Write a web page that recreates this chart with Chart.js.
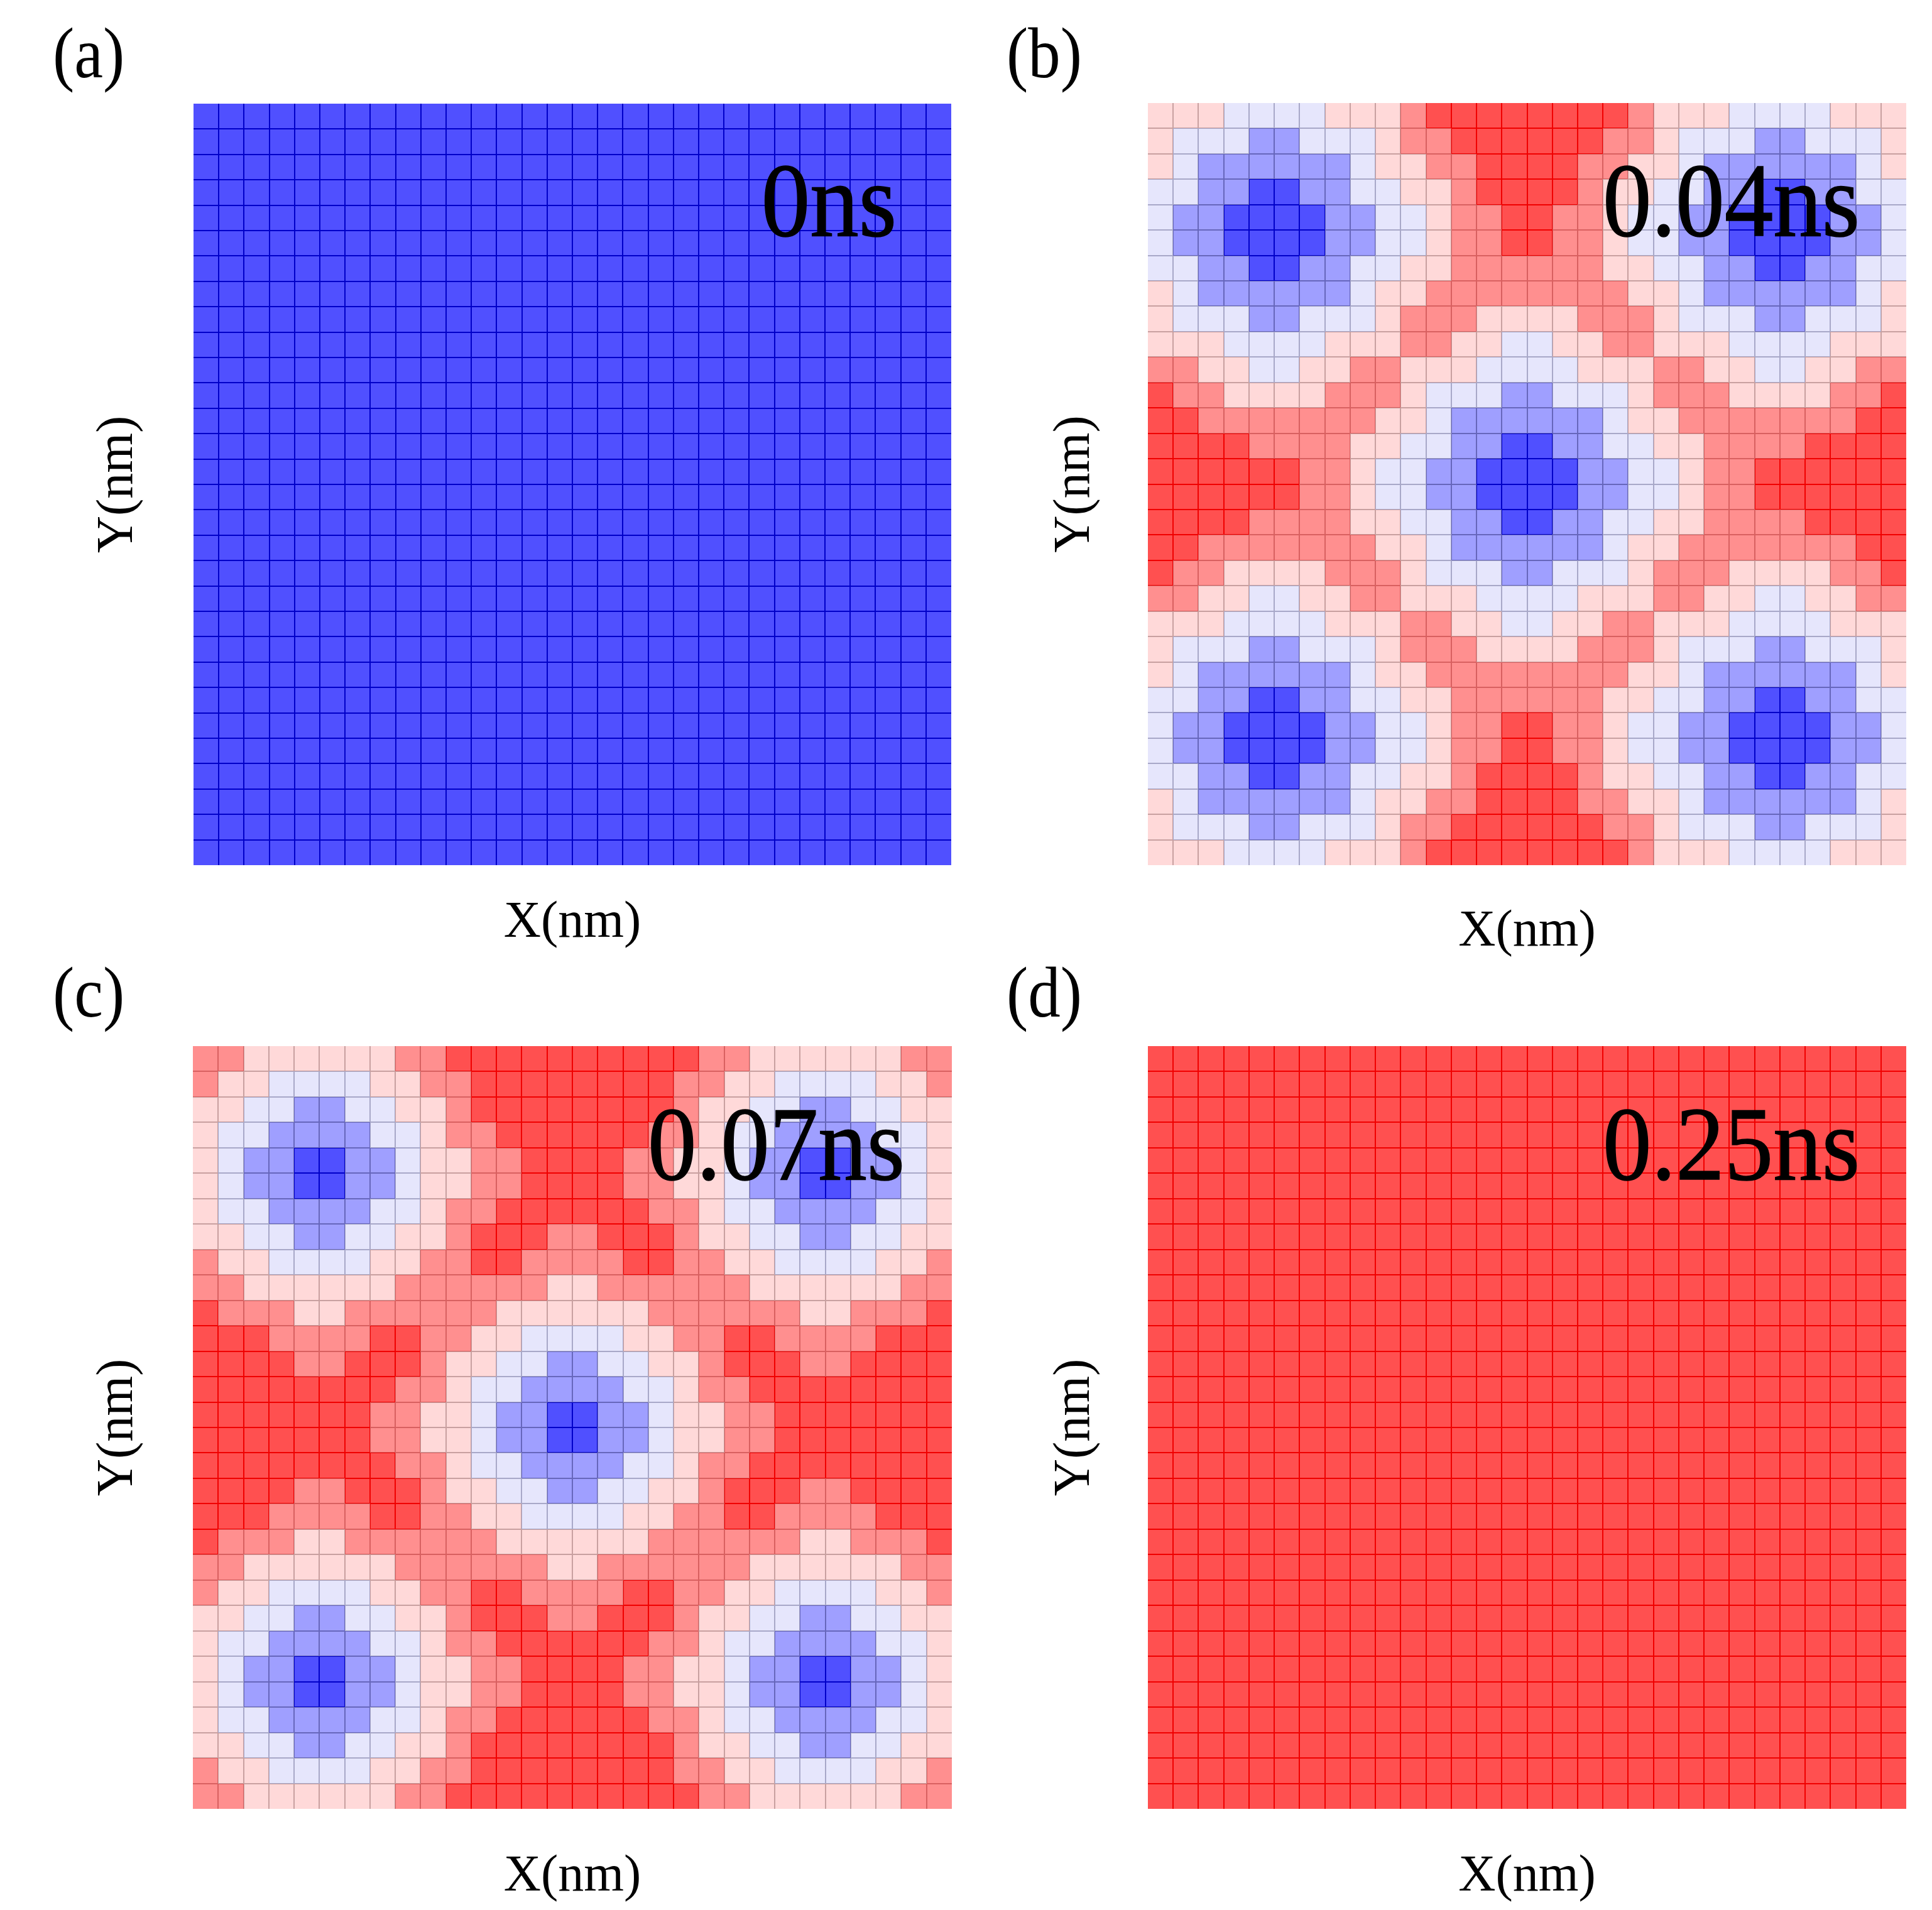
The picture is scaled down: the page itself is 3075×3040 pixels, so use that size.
<!DOCTYPE html>
<html>
<head>
<meta charset="utf-8">
<title>Panels</title>
<script src="https://cdn.jsdelivr.net/npm/chart.js@4"></script>
<style>
  html, body { margin: 0; background: #fff; overflow: hidden; }
  canvas { position: absolute; }
</style>
</head>
<body>
<script>
// cell columns, 30 x 30 grid
const columns = ["1","2","3","4","5","6","7","8","9","10","11","12","13","14","15","16","17","18","19","20","21","22","23","24","25","26","27","28","29","30"];

// each string is one row of the map, top to bottom, each digit is the level of one cell
const rowsA = [
  "000000000000000000000000000000","000000000000000000000000000000","000000000000000000000000000000",
  "000000000000000000000000000000","000000000000000000000000000000","000000000000000000000000000000",
  "000000000000000000000000000000","000000000000000000000000000000","000000000000000000000000000000",
  "000000000000000000000000000000","000000000000000000000000000000","000000000000000000000000000000",
  "000000000000000000000000000000","000000000000000000000000000000","000000000000000000000000000000",
  "000000000000000000000000000000","000000000000000000000000000000","000000000000000000000000000000",
  "000000000000000000000000000000","000000000000000000000000000000","000000000000000000000000000000",
  "000000000000000000000000000000","000000000000000000000000000000","000000000000000000000000000000",
  "000000000000000000000000000000","000000000000000000000000000000","000000000000000000000000000000",
  "000000000000000000000000000000","000000000000000000000000000000","000000000000000000000000000000"
];
const rowsB = [
  "333222233345555555543332222333",
  "322211222344555555443222112223",
  "321111112334455554433211111123",
  "221100112233455554332211001122",
  "211000011223445544322110000112",
  "211000011223445544322110000112",
  "221100112233444444332211001122",
  "321111112334444444433211111123",
  "322211222344433334443222112223",
  "333222233344332233443332222333",
  "443322334433322223334433223344",
  "544333344432221122234443333445",
  "554444444332111111233444444455",
  "555544443322110011223344445555",
  "555555443221100001122344555555",
  "555555443221100001122344555555",
  "555544443322110011223344445555",
  "554444444332111111233444444455",
  "544333344432221122234443333445",
  "443322334433322223334433223344",
  "333222233344332233443332222333",
  "322211222344433334443222112223",
  "321111112334444444433211111123",
  "221100112233444444332211001122",
  "211000011223445544322110000112",
  "211000011223445544322110000112",
  "221100112233455554332211001122",
  "321111112334455554433211111123",
  "322211222344555555443222112223",
  "333222233345555555543332222333"
];
const rowsC = [
  "443333334455555555554433333344",
  "433222233445555555544332222334",
  "332211223345555555543322112233",
  "322111122344555555443221111223",
  "321100112334455554433211001123",
  "321100112334455554433211001123",
  "322111122344555555443221111223",
  "332211223345554455543322112233",
  "433222233445544445544332222334",
  "443333334444443344444433333344",
  "544433444444333333444444334445",
  "555444455443322223344554444555",
  "555544555433221122334555445555",
  "555555554432211112234455555555",
  "555555544332110011233445555555",
  "555555544332110011233445555555",
  "555555554432211112234455555555",
  "555544555433221122334555445555",
  "555444455443322223344554444555",
  "544433444444333333444444334445",
  "443333334444443344444433333344",
  "433222233445544445544332222334",
  "332211223345554455543322112233",
  "322111122344555555443221111223",
  "321100112334455554433211001123",
  "321100112334455554433211001123",
  "322111122344555555443221111223",
  "332211223345555555543322112233",
  "433222233445555555544332222334",
  "443333334455555555554433333344"
];
const rowsD = [
  "555555555555555555555555555555","555555555555555555555555555555","555555555555555555555555555555",
  "555555555555555555555555555555","555555555555555555555555555555","555555555555555555555555555555",
  "555555555555555555555555555555","555555555555555555555555555555","555555555555555555555555555555",
  "555555555555555555555555555555","555555555555555555555555555555","555555555555555555555555555555",
  "555555555555555555555555555555","555555555555555555555555555555","555555555555555555555555555555",
  "555555555555555555555555555555","555555555555555555555555555555","555555555555555555555555555555",
  "555555555555555555555555555555","555555555555555555555555555555","555555555555555555555555555555",
  "555555555555555555555555555555","555555555555555555555555555555","555555555555555555555555555555",
  "555555555555555555555555555555","555555555555555555555555555555","555555555555555555555555555555",
  "555555555555555555555555555555","555555555555555555555555555555","555555555555555555555555555555"
];

const panelLetters = ["(a)", "(b)", "(c)", "(d)"];
const timeLabels = ["0ns", "0.04ns", "0.07ns", "0.25ns"];

const levelColors = ["#5050ff", "#9f9fff", "#e6e6fc", "#ffd9d9", "#ff8f8f", "#ff5050"];
const levelEdges = ["#0000c8", "#6666bb", "#a8a8c8", "#c8a0a0", "#d86060", "#f00000"];

const serif = '"Liberation Serif", "Times New Roman", serif';

// page boxes for the four panels, in px
const layouts = [
  { rows: rowsA, cx: 0, cy: 0, ax: 308, ay: 165, ar: 1514, ab: 1377, ytitle: 188, xtitle: 1469, lx: 84, ly: 123, tr: 1427, ty: 375 },
  { rows: rowsB, cx: 1540, cy: 0, ax: 1827, ay: 164, ar: 3034, ab: 1377, ytitle: 1711, xtitle: 1483, lx: 1602, ly: 123, tr: 2960, ty: 375 },
  { rows: rowsC, cx: 0, cy: 1530, ax: 307, ay: 1665, ar: 1515, ab: 2879, ytitle: 188, xtitle: 2987, lx: 84, ly: 1618, tr: 1440, ty: 1877 },
  { rows: rowsD, cx: 1540, cy: 1530, ax: 1827, ay: 1665, ar: 3034, ab: 2879, ytitle: 1711, xtitle: 2987, lx: 1602, ly: 1618, tr: 2960, ty: 1877 }
];

const titleSize = 82;
const canvasW = 1535, canvasH = 1530;

// toFixed first so neighbouring cells round the same way at .5
const snap = v => Math.round(+v.toFixed(3));

// snap the bars to whole pixels, otherwise the seams between cells show through
const snapCells = {
  id: 'snapCells',
  afterDatasetsUpdate(chart) {
    chart.getSortedVisibleDatasetMetas().forEach(meta => {
      meta.data.forEach(bar => {
        const l = snap(bar.x - bar.width / 2);
        const r = snap(bar.x + bar.width / 2);
        bar.x = (l + r) / 2;
        bar.width = r - l;
        bar.y = snap(bar.y);
        bar.base = snap(bar.base);
      });
    });
  }
};

// panel letter and time stamp, drawn over the cells
const panelText = {
  id: 'panelText',
  afterDraw(chart, args, opts) {
    const ctx = chart.ctx;
    ctx.save();
    ctx.fillStyle = '#000';
    ctx.strokeStyle = '#000';
    ctx.textBaseline = 'alphabetic';
    ctx.textAlign = 'left';
    // both texts are a bit taller than wide in the original
    ctx.save();
    ctx.translate(opts.lx, opts.ly);
    ctx.scale(1, 1.12);
    ctx.font = '103px ' + serif;
    ctx.fillText(opts.letter, 0, 0);
    ctx.restore();
    ctx.translate(opts.tr, opts.ty);
    ctx.scale(1, 1.08);
    ctx.font = '155px ' + serif;
    ctx.textAlign = 'right';
    ctx.lineWidth = 1.5;
    ctx.fillText(opts.time, 0, 0);
    ctx.strokeText(opts.time, 0, 0);
    ctx.restore();
  }
};

layouts.forEach((p, i) => {
  const canvas = document.createElement('canvas');
  canvas.width = canvasW;
  canvas.height = canvasH;
  canvas.style.left = p.cx + 'px';
  canvas.style.top = p.cy + 'px';
  document.body.appendChild(canvas);

  const datasets = p.rows.map((row, r) => {
    const levels = row.split('').map(Number);
    return {
      label: 'row ' + (r + 1),
      data: levels.map(() => [r, r + 1]),
      backgroundColor: levels.map(l => levelColors[l]),
      borderColor: levels.map(l => levelEdges[l]),
      borderWidth: ctx => ({
        left: ctx.dataIndex === 0 ? 0 : 1,
        right: ctx.dataIndex === 29 ? 0 : 1,
        top: r === 0 ? 0 : 1,
        bottom: r === 29 ? 0 : 1
      }),
      borderSkipped: false,
      inflateAmount: 0,
      barPercentage: 1,
      categoryPercentage: 1
    };
  });

  const yLeft = p.ytitle - titleSize / 2;
  const xBottom = p.xtitle + titleSize / 2;

  new Chart(canvas, {
    type: 'bar',
    data: { labels: columns, datasets: datasets },
    plugins: [snapCells, panelText],
    options: {
      responsive: false,
      animation: false,
      layout: {
        padding: {
          left: yLeft - p.cx,
          top: p.ay - p.cy,
          right: p.cx + canvasW - p.ar,
          bottom: p.cy + canvasH - xBottom
        }
      },
      plugins: {
        legend: { display: false },
        tooltip: { enabled: false },
        panelText: {
          letter: panelLetters[i], time: timeLabels[i],
          lx: p.lx - p.cx, ly: p.ly - p.cy,
          tr: p.tr - p.cx, ty: p.ty - p.cy
        }
      },
      scales: {
        x: {
          stacked: true,
          grid: { display: false },
          border: { display: false },
          ticks: { display: false },
          title: { display: true, text: 'X(nm)', color: '#000', padding: 0, font: { family: serif, size: titleSize, lineHeight: 1 } },
          afterFit: s => { s.height = xBottom - p.ab; }
        },
        y: {
          min: 0,
          max: 30,
          reverse: true,
          grid: { display: false },
          border: { display: false },
          ticks: { display: false },
          title: { display: true, text: 'Y(nm)', color: '#000', padding: 0, font: { family: serif, size: titleSize, lineHeight: 1 } },
          afterFit: s => { s.width = p.ax - yLeft; }
        }
      }
    }
  });
});
</script>
</body>
</html>
